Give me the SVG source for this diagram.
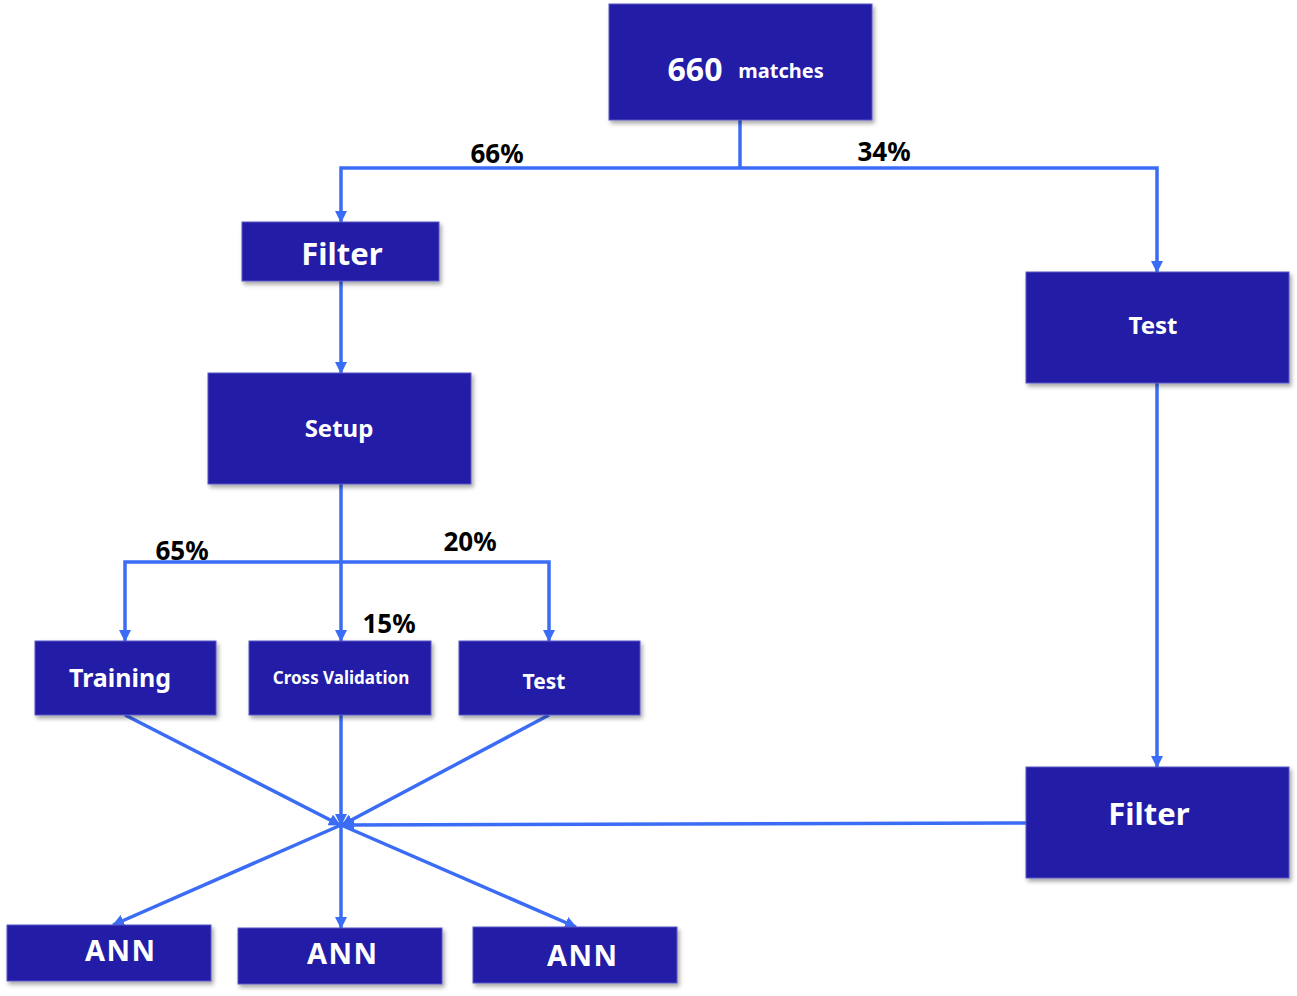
<svg xmlns="http://www.w3.org/2000/svg" width="1297" height="996" viewBox="0 0 1297 996">
<style>
.box{fill:#211da6;stroke:#5a57c4;stroke-width:1;filter:url(#sh)}
.t{fill:#fff;font-family:"Noto Sans","Open Sans",sans-serif;font-weight:bold;text-anchor:middle}
.p{fill:#000;font-family:"Noto Sans","Open Sans",sans-serif;font-weight:bold;font-size:26px;text-anchor:middle}
.c{fill:none;stroke:#3b6cf5;stroke-width:3.5;stroke-linejoin:miter}
.a{marker-end:url(#ar)}
</style>
<defs>
<filter id="sh" x="-10%" y="-10%" width="120%" height="130%">
<feDropShadow dx="2" dy="3" stdDeviation="2" flood-color="#000" flood-opacity="0.35"/>
</filter>
<marker id="ar" markerWidth="12" markerHeight="12" refX="11" refY="6" orient="auto" markerUnits="userSpaceOnUse" viewBox="0 0 12 12">
<path d="M0,0 L12,6 L0,12 z" fill="#3b6cf5"/>
</marker>
</defs>
<g id="connectors">
<path class="c" d="M740,120 V168"/>
<path class="c a" d="M740,168 H341 V222"/>
<path class="c a" d="M740,168 H1157 V272"/>
<path class="c a" d="M341,281 V373"/>
<path class="c a" d="M1157,383 V767"/>
<path class="c a" d="M341,484 V641"/>
<path class="c a" d="M341,562 H125 V641"/>
<path class="c a" d="M341,562 H549 V641"/>
<path class="c a" d="M125,715 L340,825"/>
<path class="c a" d="M341,715 V825"/>
<path class="c a" d="M549,715 L342,825"/>
<path class="c a" d="M1026,823 L343,825"/>
<path class="c a" d="M341,825 L113,925"/>
<path class="c a" d="M341,825 V928"/>
<path class="c a" d="M341,825 L576,927"/>
</g>
<g id="labels">
<text class="p" x="497" y="163">66%</text>
<text class="p" x="884" y="161">34%</text>
<text class="p" x="182" y="560">65%</text>
<text class="p" x="470" y="551">20%</text>
<text class="p" x="389" y="633">15%</text>
</g>
<g id="n-matches"><rect class="box" x="609" y="4" width="263" height="116"/>
<text class="t" x="695" y="81" font-size="32">660</text><text class="t" x="781" y="78" font-size="20">matches</text></g>
<g id="n-filter1"><rect class="box" x="242" y="222" width="197" height="59"/><text class="t" x="342" y="265" font-size="31">Filter</text></g>
<g id="n-setup"><rect class="box" x="208" y="373" width="263" height="111"/><text class="t" x="339" y="437" font-size="24">Setup</text></g>
<g id="n-test1"><rect class="box" x="1026" y="272" width="263" height="111"/><text class="t" x="1153" y="334" font-size="24">Test</text></g>
<g id="n-filter2"><rect class="box" x="1026" y="767" width="263" height="111"/><text class="t" x="1149" y="825" font-size="31">Filter</text></g>
<g id="n-training"><rect class="box" x="35" y="641" width="181" height="74"/><text class="t" x="120" y="687" font-size="25">Training</text></g>
<g id="n-cv"><rect class="box" x="249" y="641" width="182" height="74"/><text class="t" x="341" y="684" font-size="17">Cross Validation</text></g>
<g id="n-test2"><rect class="box" x="459" y="641" width="181" height="74"/><text class="t" x="544" y="689" font-size="21">Test</text></g>
<g id="n-ann1"><rect class="box" x="7" y="925" width="204" height="56"/><text class="t" x="120" y="961" font-size="29" textLength="70">ANN</text></g>
<g id="n-ann2"><rect class="box" x="238" y="928" width="204" height="56"/><text class="t" x="342" y="964" font-size="29" textLength="70">ANN</text></g>
<g id="n-ann3"><rect class="box" x="473" y="927" width="204" height="56"/><text class="t" x="582" y="966" font-size="29" textLength="70">ANN</text></g>
</svg>
